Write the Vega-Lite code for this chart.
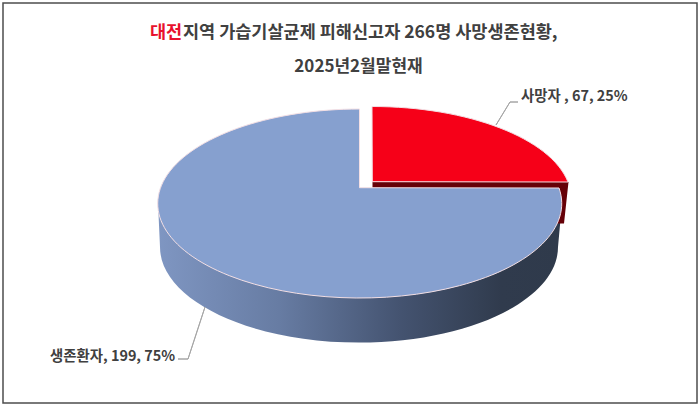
{
  "$schema": "https://vega.github.io/schema/vega-lite/v6.json",
  "width": 694,
  "height": 400,
  "padding": {"left": 3, "top": 3, "right": 3, "bottom": 3},
  "autosize": "none",
  "background": "white",
  "data": {
    "values": [
      {"name": "생존환자", "count": 199, "share": 75, "label": "생존환자, 199, 75%"},
      {"name": "사망자", "count": 67, "share": 25, "label": "사망자 , 67, 25%"}
    ]
  },
  "encoding": {
    "x": {"datum": 0, "type": "quantitative", "scale": {"domain": [-357, 337]}},
    "y": {"datum": 0, "type": "quantitative", "scale": {"domain": [-200, 200]}}
  },
  "layer": [
    {
      "transform": [{"filter": "datum.name === '생존환자'"}],
      "mark": {
        "type": "point",
        "filled": true,
        "opacity": 1,
        "size": 4,
        "shape": "M-202 0L-200 44A199 95.5 0 0 0 198 44L202 0Z",
        "fill": {
          "gradient": "linear",
          "x1": 0, "y1": 0, "x2": 1, "y2": 0,
          "stops": [
            {"offset": 0, "color": "#7f96c2"},
            {"offset": 0.3, "color": "#677ca3"},
            {"offset": 0.6, "color": "#445370"},
            {"offset": 0.85, "color": "#303b4d"},
            {"offset": 1, "color": "#2f3a4b"}
          ]
        }
      }
    },
    {
      "transform": [{"filter": "datum.name === '사망자'"}],
      "mark": {
        "type": "point",
        "filled": true,
        "opacity": 1,
        "size": 4,
        "shape": "M12.5 -21L208.5 -21L204 20.5L196 20.5L196 -15L12.5 -15Z",
        "fill": "#650007"
      }
    },
    {
      "mark": {"type": "point", "filled": true, "opacity": 1, "size": 4, "stroke": "#f3dfe4", "strokeWidth": 1},
      "encoding": {
        "shape": {
          "field": "name",
          "type": "nominal",
          "legend": null,
          "scale": {
            "domain": ["생존환자", "사망자"],
            "range": [
              "M-0.5 -15.3L-0.5 -94A202 94.5 0 1 0 199 -15Z",
              "M12.3 -21.3L12 -96.5A199 92 0 0 1 208 -21Z"
            ]
          }
        },
        "fill": {
          "field": "name",
          "type": "nominal",
          "legend": null,
          "scale": {"domain": ["생존환자", "사망자"], "range": ["#86a0cf", "#f60018"]}
        }
      }
    },
    {
      "mark": {"type": "rule", "color": "#a6a6a6", "strokeWidth": 1},
      "encoding": {
        "x": {"datum": 150, "type": "quantitative"},
        "y": {"datum": 101, "type": "quantitative"},
        "x2": {"datum": 158},
        "y2": {"datum": 101}
      }
    },
    {
      "mark": {"type": "rule", "color": "#a6a6a6", "strokeWidth": 1},
      "encoding": {
        "x": {"datum": 150, "type": "quantitative"},
        "y": {"datum": 101, "type": "quantitative"},
        "x2": {"datum": 136},
        "y2": {"datum": 78}
      }
    },
    {
      "mark": {"type": "rule", "color": "#a6a6a6", "strokeWidth": 1},
      "encoding": {
        "x": {"datum": -182, "type": "quantitative"},
        "y": {"datum": -156, "type": "quantitative"},
        "x2": {"datum": -172},
        "y2": {"datum": -156}
      }
    },
    {
      "mark": {"type": "rule", "color": "#a6a6a6", "strokeWidth": 1},
      "encoding": {
        "x": {"datum": -172, "type": "quantitative"},
        "y": {"datum": -156, "type": "quantitative"},
        "x2": {"datum": -155},
        "y2": {"datum": -104}
      }
    },
    {
      "transform": [{"filter": "datum.name === '사망자'"}],
      "mark": {"type": "text", "align": "left", "baseline": "middle", "font": "Noto Sans CJK KR", "fontWeight": "bold", "fontSize": 14.4, "color": "#404040"},
      "encoding": {
        "x": {"datum": 161, "type": "quantitative"},
        "y": {"datum": 106.5, "type": "quantitative"},
        "text": {"field": "label"}
      }
    },
    {
      "transform": [{"filter": "datum.name === '생존환자'"}],
      "mark": {"type": "text", "align": "left", "baseline": "middle", "font": "Noto Sans CJK KR", "fontWeight": "bold", "fontSize": 14.4, "color": "#404040"},
      "encoding": {
        "x": {"datum": -310, "type": "quantitative"},
        "y": {"datum": -153.5, "type": "quantitative"},
        "text": {"field": "label"}
      }
    },
    {
      "data": {"values": [{"part": "대전"}]},
      "mark": {"type": "text", "align": "left", "baseline": "middle", "font": "Noto Sans CJK KR", "fontWeight": "bold", "fontSize": 17.5, "color": "#e8112d"},
      "encoding": {
        "x": {"datum": -210, "type": "quantitative"},
        "y": {"datum": 170, "type": "quantitative"},
        "text": {"field": "part"}
      }
    },
    {
      "data": {"values": [{"part": "지역 가습기살균제 피해신고자 266명 사망생존현황,"}]},
      "mark": {"type": "text", "align": "left", "baseline": "middle", "font": "Noto Sans CJK KR", "fontWeight": "bold", "fontSize": 17.5, "color": "#404040"},
      "encoding": {
        "x": {"datum": -177, "type": "quantitative"},
        "y": {"datum": 170, "type": "quantitative"},
        "text": {"field": "part"}
      }
    },
    {
      "data": {"values": [{"part": "2025년2월말현재"}]},
      "mark": {"type": "text", "align": "center", "baseline": "middle", "font": "Noto Sans CJK KR", "fontWeight": "bold", "fontSize": 17, "color": "#404040"},
      "encoding": {
        "x": {"datum": -1.5, "type": "quantitative"},
        "y": {"datum": 136, "type": "quantitative"},
        "text": {"field": "part"}
      }
    }
  ],
  "resolve": {"scale": {"shape": "independent", "fill": "independent"}},
  "config": {
    "view": {"stroke": "#4d4d4d", "strokeWidth": 1.5},
    "axis": {"disable": true}
  }
}
